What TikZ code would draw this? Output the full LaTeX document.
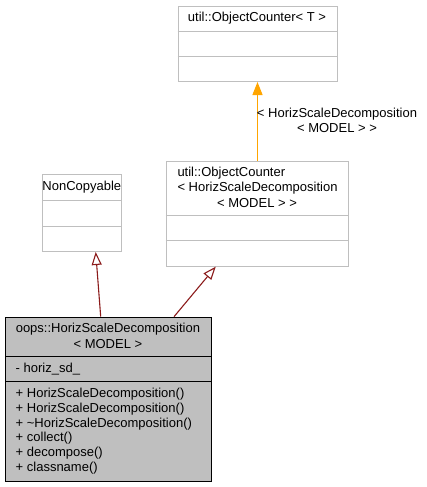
\documentclass[tikz,border=0pt]{standalone}
\usepackage{fontspec}
\setmainfont{Liberation Sans}
\usetikzlibrary{arrows.meta,calc}
\definecolor{boxgray}{HTML}{BFBFBF}
\definecolor{edgegray}{HTML}{BFBFBF}
\definecolor{inhred}{HTML}{8B1A1A}
\definecolor{tmplorange}{HTML}{FFA500}
\tikzset{
  lightbox/.style={draw=edgegray, fill=white, line width=1pt, inner sep=0pt, anchor=north west},
  darkbox/.style={draw=black, fill=boxgray, line width=1pt, inner sep=0pt, anchor=north west},
  sepline/.style={line width=1pt},
  txt/.style={inner sep=0pt, font=\fontsize{13}{15}\selectfont},
  ltxt/.style={txt, anchor=west},
  inherit/.style={color=inhred, line width=1.1pt, -{Triangle[open, length=13pt, width=10pt, fill=white]}},
  tmpl/.style={color=tmplorange, line width=1.1pt, -{Triangle[length=13pt, width=10pt]}},
}
\begin{document}
\begin{tikzpicture}[x=1pt, y=-1pt]
\useasboundingbox (0,0) rectangle (427,487);
% box 1: util::ObjectCounter< T >
\node[lightbox, minimum width=159pt, minimum height=75.3pt] (oc) at (177.5,5.7) {};
\draw[sepline, draw=edgegray] ($(oc.north west)+(0,26)$) -- ($(oc.north east)+(0,26)$);
\draw[sepline, draw=edgegray] ($(oc.north west)+(0,51)$) -- ($(oc.north east)+(0,51)$);
\node[txt] (octitle) at (257,18.5) {util::ObjectCounter< T >};
% box 2: NonCopyable
\node[lightbox, minimum width=79pt, minimum height=77pt] (nc) at (42.3,174) {};
\draw[sepline, draw=edgegray] ($(nc.north west)+(0,26.7)$) -- ($(nc.north east)+(0,26.7)$);
\draw[sepline, draw=edgegray] ($(nc.north west)+(0,52)$) -- ($(nc.north east)+(0,52)$);
\node[txt] (nctitle) at (81.8,187) {NonCopyable};
% box 3: util::ObjectCounter< HorizScaleDecomposition< MODEL > >
\node[lightbox, minimum width=182.6pt, minimum height=105pt] (och) at (165.7,160.7) {};
\draw[sepline, draw=edgegray] ($(och.north west)+(0,55)$) -- ($(och.north east)+(0,55)$);
\draw[sepline, draw=edgegray] ($(och.north west)+(0,80)$) -- ($(och.north east)+(0,80)$);
\node[ltxt] (ochl1) at (177.3,173.5) {util::ObjectCounter};
\node[ltxt] (ochl2) at (177.3,188.3) {< HorizScaleDecomposition};
\node[txt] (ochl3) at (257,203) {< MODEL > >};
% box 4: oops::HorizScaleDecomposition< MODEL >
\node[darkbox, minimum width=205.7pt, minimum height=164pt] (hsd) at (5,316.7) {};
\draw[sepline] ($(hsd.north west)+(0,40)$) -- ($(hsd.north east)+(0,40)$);
\draw[sepline] ($(hsd.north west)+(0,65)$) -- ($(hsd.north east)+(0,65)$);
\node[txt] (hsdl1) at (107.9,329.5) {oops::HorizScaleDecomposition};
\node[txt] (hsdl2) at (107.9,344.3) {< MODEL >};
\node[ltxt] (attr) at (15.5,369.5) {- horiz\_sd\_};
\node[ltxt] (m1) at (15.5,394.5) {+ HorizScaleDecomposition()};
\node[ltxt] (m2) at (15.5,409.2) {+ HorizScaleDecomposition()};
\node[ltxt] (m3) at (15.5,423.8) {+ \char"007EHorizScaleDecomposition()};
\node[ltxt] (m4) at (15.5,438.5) {+ collect()};
\node[ltxt] (m5) at (15.5,453.2) {+ decompose()};
\node[ltxt] (m6) at (15.5,467.9) {+ classname()};
% connectors
\draw[inherit] ($(hsd.north west)+(95.7,0)$) -- ($(nc.south west)+(53.4,0)$);
\draw[inherit] ($(hsd.north west)+(169,0)$) -- ($(och.south west)+(50,0)$);
\draw[tmpl] ($(och.north west)+(91.8,0)$) -- ($(oc.south west)+(80,0)$);
\node[txt, align=center] (tlabel) at (337,120) {< HorizScaleDecomposition\\< MODEL > >};
\end{tikzpicture}
\end{document}
